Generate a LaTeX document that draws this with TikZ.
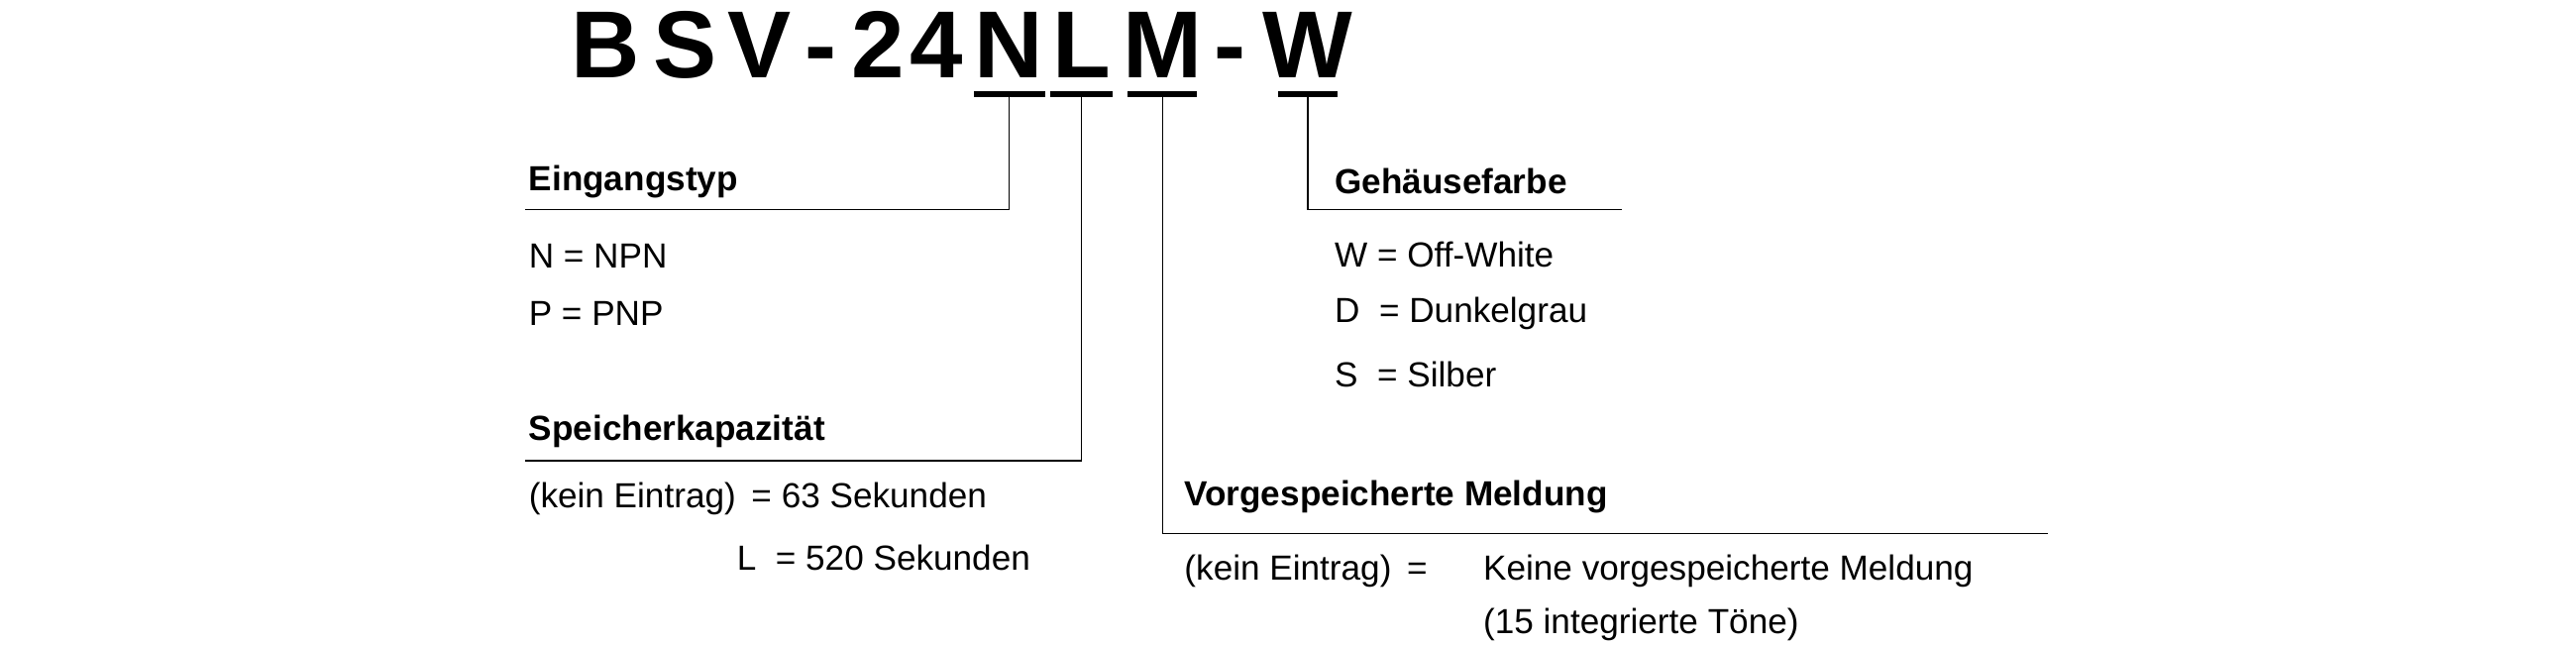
\documentclass[tikz,border=0pt]{standalone}
\usepackage{fontspec}
\setmainfont{Liberation Sans}
\begin{document}
\begin{tikzpicture}[x=0.025cm,y=-0.025cm,
  lbl/.style={anchor=west,inner sep=0,font=\fontsize{15pt}{18pt}\selectfont},
  hd/.style={lbl,font=\fontsize{15pt}{18pt}\selectfont\bfseries},
  big/.style={anchor=base,inner sep=0,font=\fontsize{41pt}{44pt}\selectfont\bfseries},
  uline/.style={line width=2.6pt},
  conn/.style={line width=0.7pt}]
\useasboundingbox (0,0) rectangle (1560,390);
\foreach \c/\x [count=\i] in {B/367,S/415,V/460,-/497,2/532,4/567,N/611,L/655,M/704,-/745,W/792}
  \node[big] (t\i) at (\x,47) {\c};
\coordinate (uN) at (611,57); \coordinate (uL) at (655,57);
\coordinate (uM) at (704,57); \coordinate (uW) at (792,57);
\draw[uline] (590,57) -- (633,57);
\draw[uline] (636,57) -- (674,57);
\draw[uline] (683,57) -- (725,57);
\draw[uline] (774,57) -- (810,57);
\coordinate (eN) at (318,127); \coordinate (eL) at (318,279);
\coordinate (eM) at (1240,323); \coordinate (eW) at (982,127);
\draw[conn] (uN) |- (eN);
\draw[conn] (uL) |- (eL);
\draw[conn] (uM) |- (eM);
\draw[conn] (uW) |- (eW);
\node[hd] (h1) at (320,110) {Eingangstyp};
\node[lbl] (a1) at (320,155) {N = NPN};
\node[lbl] (a2) at (320,190) {P = PNP};
\node[hd] (h2) at (320,261) {Speicherkapazität};
\node[lbl] (b1) at (320,302) {(kein Eintrag)\, = 63 Sekunden};
\node[lbl] (b2) at (446,338) {L\; = 520 Sekunden};
\node[hd] (h3) at (808,110) {Gehäusefarbe};
\node[lbl] (c1) at (808,154) {W = Off-White};
\node[lbl] (c2) at (808,190) {D\; = Dunkelgrau};
\node[lbl] (c3) at (808,227) {S\; = Silber};
\node[hd] (h4) at (717,301) {Vorgespeicherte Meldung};
\node[lbl] (d1) at (717,346) {(kein Eintrag)\, =};
\node[lbl] (d2) at (898,346) {Keine vorgespeicherte Meldung};
\node[lbl] (d3) at (898,378) {(15 integrierte Töne)};
\end{tikzpicture}
\end{document}
